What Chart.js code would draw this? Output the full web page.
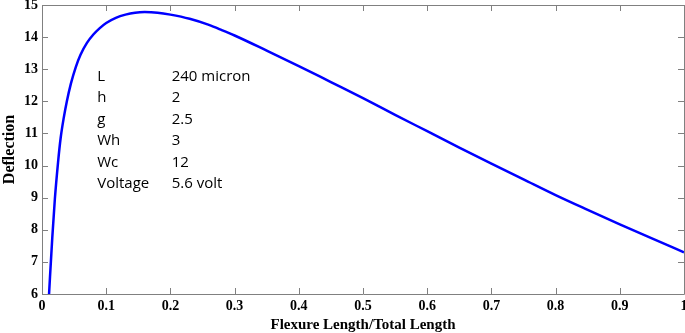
<!DOCTYPE html>
<html>
<head>
<meta charset="utf-8">
<script src="https://cdn.jsdelivr.net/npm/chart.js@4"></script>
<style>
  html, body { margin: 0; padding: 0; background: #fff; }
  #wrap { width: 685px; height: 333px; }
</style>
</head>
<body>
<div id="wrap"><canvas id="deflection-chart"></canvas></div>
<script>
const ratio = [0.011, 0.0125, 0.016, 0.02, 0.025, 0.029, 0.034, 0.0385, 0.045, 0.0525,
  0.06, 0.07, 0.08, 0.09, 0.1, 0.115, 0.13, 0.145, 0.16, 0.18, 0.2, 0.23, 0.26, 0.28, 0.3,
  0.35, 0.4, 0.45, 0.5, 0.55, 0.6, 0.65, 0.7, 0.75, 0.8, 0.85, 0.9, 0.95, 1.0];
const deflection = [6.0, 6.55, 7.75, 8.95, 10.1, 10.85, 11.5, 11.98, 12.55, 13.06,
  13.45, 13.82, 14.08, 14.28, 14.44, 14.6, 14.7, 14.76, 14.78, 14.76, 14.7, 14.57, 14.38, 14.22, 14.05,
  13.58, 13.1, 12.6, 12.1, 11.58, 11.07, 10.56, 10.06, 9.57, 9.08, 8.62, 8.17, 7.73, 7.3];
const xTicks = [0, 0.1, 0.2, 0.3, 0.4, 0.5, 0.6, 0.7, 0.8, 0.9, 1];
const yTicks = [6, 7, 8, 9, 10, 11, 12, 13, 14, 15];
const paramNames = ["L", "h", "g", "Wh", "Wc", "Voltage"];
const paramValues = ["240 micron", "2", "2.5", "3", "12", "5.6 volt"];

const frame = {
  id: "frame",
  afterDraw(chart) {
    const { ctx, chartArea: { left, right, top, bottom }, scales: { x, y } } = chart;
    ctx.save();
    ctx.strokeStyle = "#808080";
    ctx.lineWidth = 1;
    ctx.beginPath();
    ctx.rect(Math.round(left) + 0.5, Math.round(top) + 0.5,
      Math.round(right - left), Math.round(bottom - top));
    xTicks.forEach((v) => {
      const px = Math.round(x.getPixelForValue(v)) + 0.5;
      ctx.moveTo(px, bottom); ctx.lineTo(px, bottom - 6);
      ctx.moveTo(px, top); ctx.lineTo(px, top + 6);
    });
    yTicks.forEach((v) => {
      const py = Math.round(y.getPixelForValue(v)) + 0.5;
      ctx.moveTo(left, py); ctx.lineTo(left + 6, py);
      ctx.moveTo(right, py); ctx.lineTo(right - 6, py);
    });
    ctx.stroke();

    // parameter table
    ctx.fillStyle = "#000";
    ctx.font = "15px 'Open Sans'";
    ctx.textBaseline = "middle";
    const x0 = x.getPixelForValue(0.086);
    const x1 = x.getPixelForValue(0.202);
    const y0 = y.getPixelForValue(12.77);
    paramNames.forEach((name, i) => {
      ctx.fillText(name, x0, y0 + i * 21.5);
      ctx.fillText(paramValues[i], x1, y0 + i * 21.5);
    });
    ctx.restore();
  },
};

const ctx = document.getElementById("deflection-chart").getContext("2d");
new Chart(ctx, {
  type: "line",
  data: {
    datasets: [
      {
        data: ratio.map((r, i) => ({ x: r, y: deflection[i] })),
        borderColor: "#0000ff",
        borderWidth: 2.5,
        pointRadius: 0,
        cubicInterpolationMode: "monotone",
        fill: false,
      },
    ],
  },
  options: {
    responsive: true,
    maintainAspectRatio: false,
    animation: false,
    layout: { padding: { left: 0, right: 1, top: 5, bottom: 0 } },
    plugins: { legend: { display: false }, tooltip: { enabled: false } },
    scales: {
      x: {
        type: "linear",
        min: 0,
        max: 1,
        afterBuildTicks: (s) => { s.ticks = xTicks.map((v) => ({ value: v })); },
        afterFit: (s) => { s.paddingLeft = 0; s.paddingRight = 0; },
        grid: { display: false, drawTicks: false },
        border: { display: false },
        ticks: {
          color: "#000",
          padding: 5,
          maxRotation: 0,
          callback: (v) => String(v),
          font: { family: "'Liberation Serif'", size: 14, weight: "bold", lineHeight: 1 },
        },
        title: {
          display: true,
          text: "Flexure Length/Total Length",
          color: "#000",
          padding: { top: 0, bottom: 0 },
          font: { family: "'Liberation Serif'", size: 15, weight: "bold", lineHeight: 1 },
        },
      },
      y: {
        min: 6,
        max: 15,
        afterBuildTicks: (s) => { s.ticks = yTicks.map((v) => ({ value: v })); },
        afterFit: (s) => { s.paddingTop = 0; s.paddingBottom = 0; },
        grid: { display: false, drawTicks: false },
        border: { display: false },
        ticks: {
          color: "#000",
          padding: 4,
          font: { family: "'Liberation Serif'", size: 14, weight: "bold", lineHeight: 1 },
        },
        title: {
          display: true,
          text: "Deflection",
          color: "#000",
          padding: { top: 2, bottom: 2 },
          font: { family: "'Liberation Serif'", size: 16, weight: "bold", lineHeight: 1 },
        },
      },
    },
  },
  plugins: [frame],
});
</script>
</body>
</html>
